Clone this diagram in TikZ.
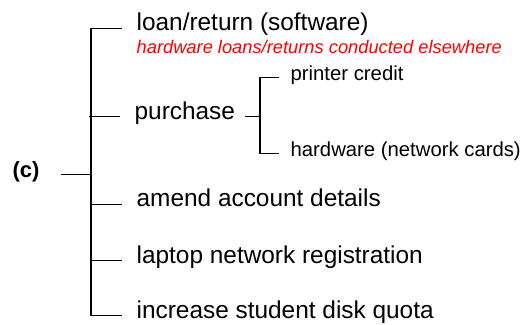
\documentclass[tikz,border=0pt]{standalone}
\usepackage{fontspec}
\setmainfont{Liberation Sans}

\begin{document}
\begin{tikzpicture}[x=1pt, y=1pt, line width=1.3pt,
    item/.style={anchor=mid west, inner sep=0pt, node font=\fontsize{24.4}{28}\selectfont},
    subitem/.style={anchor=mid west, inner sep=0pt, node font=\fontsize{20.3}{24}\selectfont},
    remark/.style={anchor=base west, inner sep=0pt, text=red, node font=\fontsize{18.3}{22}\selectfont\itshape}]
    \useasboundingbox (0,0) rectangle (524,324);

    % Root label
    \node[anchor=mid west, inner sep=0pt, node font=\fontsize{22}{26}\selectfont\bfseries] (c) at (12,152.5) {(c)};

    % Main items
    \node[item] (loan) at (136,299.5) {loan/return (software)};
    \node[remark] (note) at (136,270) {hardware loans/returns conducted elsewhere};
    \node[item] (purchase) at (134,211) {purchase};
    \node[item] (amend) at (136,123.5) {amend account details};
    \node[item] (laptop) at (136,67) {laptop network registration};
    \node[item] (quota) at (136,12) {increase student disk quota};

    % Purchase sub-items
    \node[subitem] (printer) at (290,249) {printer credit};
    \node[subitem] (hardware) at (290,173) {hardware (network cards)};

    % Main bracket
    \coordinate (trunk) at (91,153);
    \draw ([xshift=-14pt]loan.mid west) -- (loan.mid -| trunk) -- (quota.mid -| trunk) -- ([xshift=-14pt]quota.mid west);
    \draw ([xshift=21pt]c.mid east) -- (c.mid -| trunk);
    \draw ([xshift=-2pt]purchase.mid -| trunk) -- ([xshift=-14pt]purchase.mid west);
    \foreach \n in {amend, laptop}
        \draw (\n.mid -| trunk) -- ([xshift=-14pt]\n.mid west);

    % Sub bracket for purchase
    \coordinate (subtrunk) at (260,211);
    \draw ([xshift=9pt]purchase.mid east) -- (purchase.mid -| subtrunk);
    \draw ([xshift=-11pt]printer.mid west) -- (printer.mid -| subtrunk) -- (hardware.mid -| subtrunk) -- ([xshift=-11pt]hardware.mid west);
\end{tikzpicture}
\end{document}
